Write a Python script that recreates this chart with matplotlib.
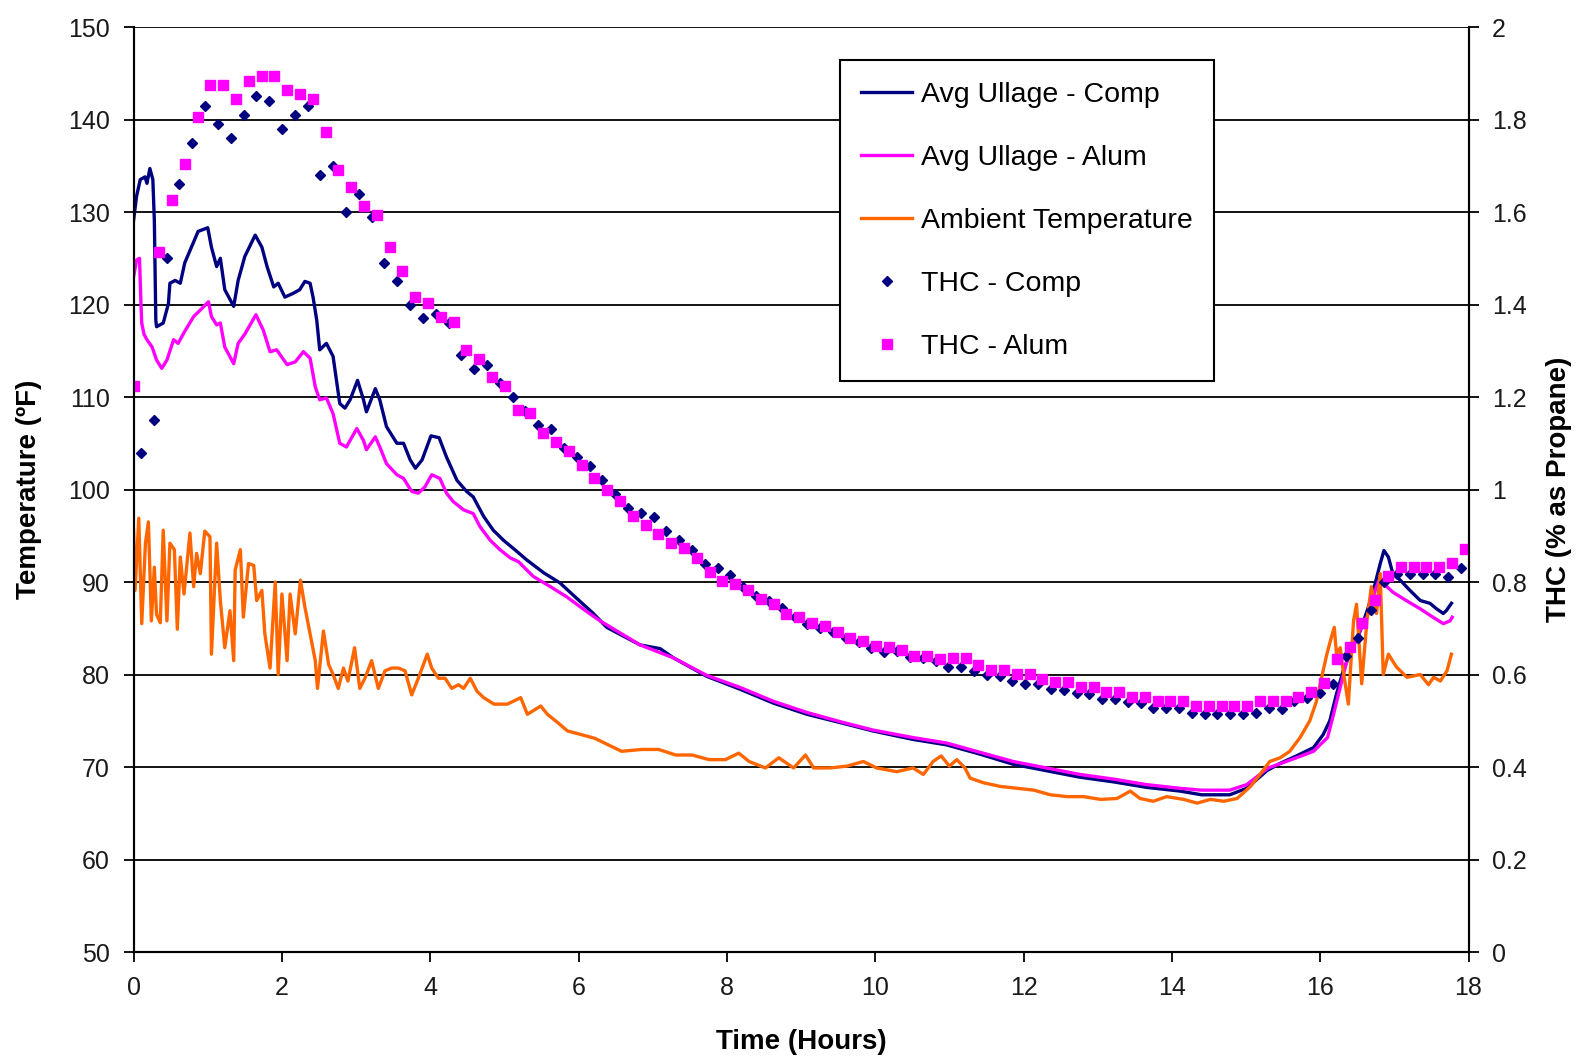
import numpy as np
import matplotlib
matplotlib.use("Agg")
import matplotlib.pyplot as plt
from matplotlib.lines import Line2D

plt.rcParams["font.family"] = ["Liberation Sans", "DejaVu Sans"]

NAVY = "#000080"
MAGENTA = "#FF00FF"
ORANGE = "#FF6600"

# ---- Avg Ullage - Comp (deg F) ----
comp_hours = [0, 0.04, 0.09, 0.155, 0.18, 0.22, 0.26, 0.28, 0.30, 0.31, 0.40, 0.47, 0.49,
              0.56, 0.63, 0.69, 0.78, 0.87, 1.00, 1.05, 1.12, 1.17, 1.23, 1.35, 1.41, 1.50,
              1.64, 1.73, 1.80, 1.89, 1.95, 2.04, 2.15, 2.24, 2.31, 2.38, 2.42, 2.47, 2.51,
              2.60, 2.69, 2.78, 2.85, 2.92, 3.02, 3.10, 3.14, 3.26, 3.32, 3.41, 3.55, 3.64,
              3.73, 3.80, 3.89, 4.01, 4.12, 4.22, 4.36, 4.49, 4.58, 4.72, 4.85, 4.99, 5.14,
              5.30, 5.53, 5.75, 5.98, 6.20, 6.38, 6.83, 7.10, 7.28, 7.73, 8.18, 8.63, 9.08,
              9.53, 9.97, 10.5, 10.96, 11.41, 11.86, 12.31, 12.76, 13.21, 13.66, 14.11, 14.4,
              14.78, 15.01, 15.28, 15.46, 15.68, 15.91, 16.04, 16.13, 16.22, 16.31, 16.40,
              16.54, 16.65, 16.74, 16.81, 16.86, 16.92, 16.98, 17.08, 17.21, 17.35, 17.48,
              17.57, 17.66, 17.70, 17.77]
comp_temp = [129.1, 131.7, 133.5, 133.8, 133.1, 134.7, 133.5, 129.1, 118.3, 117.6, 118.0,
             120.1, 122.3, 122.6, 122.3, 124.5, 126.2, 127.9, 128.3, 126.2, 124.1, 125.0,
             121.6, 119.8, 122.6, 125.2, 127.5, 126.2, 124.1, 121.9, 122.3, 120.8, 121.2,
             121.6, 122.5, 122.3, 120.8, 118.3, 115.1, 115.8, 114.4, 109.3, 108.8, 109.7,
             111.8, 109.7, 108.4, 110.9, 109.7, 106.8, 105.0, 105.0, 103.2, 102.3, 103.2,
             105.8, 105.6, 103.5, 101.0, 99.8, 99.2, 97.1, 95.6, 94.5, 93.5, 92.4, 91.0,
             89.9, 88.2, 86.6, 85.1, 83.2, 82.8, 81.8, 79.8, 78.4, 76.9, 75.7, 74.8, 73.9,
             73.0, 72.4, 71.4, 70.3, 69.6, 68.9, 68.4, 67.8, 67.4, 67.0, 67.0, 67.7, 69.6,
             70.4, 71.2, 72.1, 73.5, 75.0, 77.9, 80.4, 82.2, 84.7, 87.3, 89.8, 92.0, 93.4,
             92.7, 90.9, 90.2, 89.1, 88.0, 87.7, 87.1, 86.6, 86.9, 87.7]

# ---- Avg Ullage - Alum (deg F) ----
alum_hours = [0, 0.04, 0.08, 0.10, 0.11, 0.14, 0.18, 0.25, 0.31, 0.38, 0.45, 0.54, 0.60,
              0.69, 0.81, 0.90, 1.01, 1.05, 1.12, 1.17, 1.23, 1.35, 1.41, 1.50, 1.65, 1.75,
              1.84, 1.93, 2.07, 2.18, 2.29, 2.38, 2.45, 2.51, 2.60, 2.69, 2.78, 2.87, 3.01,
              3.10, 3.14, 3.26, 3.32, 3.41, 3.55, 3.64, 3.75, 3.84, 3.93, 4.02, 4.13, 4.22,
              4.31, 4.45, 4.58, 4.67, 4.81, 4.94, 5.08, 5.19, 5.39, 5.62, 5.84, 6.06, 6.29,
              6.83, 7.28, 7.73, 8.18, 8.63, 9.08, 9.53, 9.97, 10.5, 10.96, 11.41, 11.86,
              12.31, 12.76, 13.21, 13.66, 14.11, 14.4, 14.78, 15.01, 15.30, 15.68, 15.91,
              16.10, 16.18, 16.27, 16.36, 16.49, 16.63, 16.76, 16.81, 16.90, 16.98, 17.16,
              17.35, 17.52, 17.66, 17.75, 17.78]
alum_temp = [123.0, 124.8, 125.0, 120.0, 118.0, 116.8, 116.2, 115.4, 114.0, 113.1, 114.0,
             116.2, 115.8, 117.1, 118.7, 119.4, 120.3, 118.7, 117.8, 118.0, 115.4, 113.6,
             115.8, 116.8, 118.9, 117.2, 114.9, 115.1, 113.5, 113.8, 114.9, 114.2, 111.1,
             109.7, 109.9, 108.2, 105.0, 104.6, 106.6, 105.3, 104.3, 105.7, 104.6, 102.8,
             101.6, 101.2, 99.8, 99.6, 100.3, 101.6, 101.2, 99.6, 98.7, 97.8, 97.4, 96.0,
             94.5, 93.5, 92.6, 92.2, 90.6, 89.5, 88.4, 87.1, 85.8, 83.2, 81.8, 79.9, 78.6,
             77.1, 75.9, 74.9, 74.0, 73.2, 72.6, 71.6, 70.6, 69.9, 69.2, 68.7, 68.1, 67.7,
             67.5, 67.5, 68.1, 69.9, 71.0, 71.7, 73.2, 75.7, 78.6, 81.5, 84.0, 86.2, 89.5,
             90.5, 89.5, 88.9, 88.0, 87.1, 86.2, 85.5, 85.8, 86.2]

# ---- Ambient Temperature (deg F) ----
amb_hours = [0, 0.02, 0.07, 0.11, 0.16, 0.20, 0.24, 0.28, 0.31, 0.36, 0.40, 0.45, 0.49,
             0.55, 0.59, 0.63, 0.68, 0.76, 0.81, 0.85, 0.90, 0.96, 1.03, 1.05, 1.12, 1.17,
             1.23, 1.30, 1.35, 1.37, 1.44, 1.48, 1.55, 1.62, 1.66, 1.73, 1.77, 1.84, 1.91,
             1.95, 2.00, 2.07, 2.11, 2.18, 2.25, 2.31, 2.38, 2.45, 2.48, 2.56, 2.63, 2.69,
             2.76, 2.83, 2.89, 2.98, 3.05, 3.12, 3.21, 3.30, 3.39, 3.48, 3.57, 3.66, 3.75,
             3.84, 3.96, 4.02, 4.11, 4.20, 4.29, 4.38, 4.45, 4.54, 4.63, 4.72, 4.86, 5.04,
             5.22, 5.31, 5.49, 5.58, 5.72, 5.85, 6.04, 6.22, 6.40, 6.58, 6.85, 7.08, 7.31,
             7.53, 7.76, 7.98, 8.16, 8.30, 8.52, 8.70, 8.90, 9.06, 9.17, 9.39, 9.62, 9.84,
             10.02, 10.29, 10.51, 10.65, 10.78, 10.89, 11.00, 11.10, 11.21, 11.28, 11.46,
             11.69, 11.91, 12.14, 12.36, 12.59, 12.81, 13.04, 13.26, 13.44, 13.57, 13.75,
             13.93, 14.16, 14.34, 14.52, 14.70, 14.88, 15.06, 15.19, 15.32, 15.46, 15.59,
             15.73, 15.86, 15.95, 16.02, 16.09, 16.15, 16.19, 16.22, 16.27, 16.31, 16.38,
             16.45, 16.49, 16.56, 16.63, 16.69, 16.76, 16.81, 16.85, 16.92, 17.03, 17.17,
             17.35, 17.46, 17.53, 17.62, 17.71, 17.77]
amb_temp = [95.6, 89.1, 96.9, 85.5, 94.2, 96.5, 85.8, 91.6, 86.5, 85.6, 95.6, 85.8, 94.2,
            93.5, 84.9, 92.7, 88.7, 95.3, 89.5, 93.1, 90.9, 95.5, 94.9, 82.2, 94.2, 88.0,
            82.9, 86.9, 81.5, 91.3, 93.5, 86.2, 92.0, 91.8, 88.0, 89.1, 84.4, 80.7, 90.0,
            80.0, 88.7, 81.5, 88.7, 84.4, 90.2, 87.3, 84.4, 81.5, 78.5, 84.7, 81.1, 80.0,
            78.5, 80.7, 79.3, 82.9, 78.5, 79.6, 81.5, 78.5, 80.4, 80.7, 80.7, 80.4, 77.8,
            79.6, 82.2, 80.7, 79.6, 79.6, 78.5, 78.9, 78.5, 79.6, 78.2, 77.5, 76.8, 76.8,
            77.5, 75.7, 76.6, 75.7, 74.8, 73.9, 73.5, 73.1, 72.4, 71.7, 71.9, 71.9, 71.3,
            71.3, 70.8, 70.8, 71.5, 70.6, 69.9, 71.0, 69.9, 71.3, 69.9, 69.9, 70.1, 70.6,
            69.9, 69.5, 69.9, 69.2, 70.6, 71.2, 70.1, 70.8, 69.9, 68.8, 68.3,
            67.9, 67.7, 67.5, 67.0, 66.8, 66.8, 66.5, 66.6, 67.4, 66.6, 66.3,
            66.8, 66.5, 66.1, 66.5, 66.3, 66.6, 67.9, 69.2, 70.6, 71.0, 71.7,
            73.2, 75.0, 77.1, 79.7, 82.2, 84.0, 85.1, 82.2, 82.9, 80.4, 76.8,
            85.8, 87.6, 79.0, 85.8, 89.5, 86.6, 90.9, 80.0, 82.2, 80.8, 79.7,
            80.0, 78.9, 79.7, 79.3, 80.4, 82.2]

# ---- THC (% as propane), one reading about every 10 minutes ----
thc_comp = [1.08, 1.15, 1.50, 1.66, 1.75, 1.83, 1.79, 1.76, 1.81, 1.85,
            1.84, 1.78, 1.81, 1.83, 1.68, 1.70, 1.60, 1.64, 1.59, 1.49,
            1.45, 1.40, 1.37, 1.38, 1.36, 1.29, 1.26, 1.27, 1.23, 1.20,
            1.17, 1.14, 1.13, 1.09, 1.07, 1.05, 1.02, 0.99, 0.96, 0.95,
            0.94, 0.91, 0.89, 0.87, 0.84, 0.83, 0.815, 0.79, 0.77, 0.76,
            0.744, 0.725, 0.709, 0.70, 0.691, 0.68, 0.671, 0.657, 0.649, 0.651,
            0.638, 0.635, 0.630, 0.617, 0.617, 0.608, 0.599, 0.597, 0.586, 0.579,
            0.580, 0.568, 0.567, 0.561, 0.557, 0.548, 0.548, 0.541, 0.539, 0.528,
            0.528, 0.528, 0.517, 0.515, 0.515, 0.515, 0.515, 0.517, 0.528, 0.526,
            0.543, 0.550, 0.561, 0.580, 0.641, 0.679, 0.740, 0.800, 0.818, 0.818,
            0.818, 0.818, 0.811, 0.830]
thc_alum = [1.224, np.nan, 1.513, 1.626, 1.704, 1.805, 1.875, 1.875, 1.844, 1.883,
            1.894, 1.894, 1.864, 1.855, 1.844, 1.772, 1.691, 1.653, 1.614, 1.594,
            1.524, 1.473, 1.416, 1.404, 1.372, 1.363, 1.302, 1.282, 1.244, 1.224,
            1.173, 1.166, 1.123, 1.102, 1.084, 1.053, 1.024, 1.000, 0.975, 0.943,
            0.923, 0.904, 0.885, 0.873, 0.853, 0.821, 0.802, 0.795, 0.783, 0.763,
            0.752, 0.731, 0.724, 0.712, 0.704, 0.691, 0.680, 0.673, 0.661, 0.660,
            0.654, 0.641, 0.641, 0.633, 0.635, 0.635, 0.621, 0.610, 0.610, 0.602,
            0.602, 0.590, 0.583, 0.583, 0.572, 0.572, 0.563, 0.563, 0.551, 0.551,
            0.543, 0.543, 0.543, 0.532, 0.532, 0.532, 0.532, 0.532, 0.543, 0.543,
            0.543, 0.551, 0.563, 0.581, 0.633, 0.660, 0.711, 0.762, 0.814, 0.833,
            0.833, 0.833, 0.833, 0.842, 0.872]
# sampling clock of the analyzer (hours)
thc_comp_hours = 0.1 + 0.1728 * np.arange(len(thc_comp))
thc_alum_hours = 0.1726 * np.arange(len(thc_alum))

assert len(comp_hours) == len(comp_temp)
assert len(alum_hours) == len(alum_temp)
assert len(amb_hours) == len(amb_temp)

x_ticks = list(range(0, 19, 2))
temp_ticks = list(range(50, 151, 10))
thc_ticks = [0, 0.2, 0.4, 0.6, 0.8, 1, 1.2, 1.4, 1.6, 1.8, 2]


fig = plt.figure(figsize=(15.77, 10.59), dpi=100)
ax = fig.add_axes([0.0847, 0.101, 0.8465, 0.8735])
ax2 = ax.twinx()

ax.plot(comp_hours, comp_temp, color=NAVY, lw=2.4)
ax.plot(alum_hours, alum_temp, color=MAGENTA, lw=2.4)
ax.plot(amb_hours, amb_temp, color=ORANGE, lw=2.4)

ax2.plot(thc_comp_hours, thc_comp, ls="none", marker="D", ms=5.5, color=NAVY, mec=NAVY)
ax2.plot(thc_alum_hours, thc_alum, ls="none", marker="s", ms=7.8, color=MAGENTA, mec=MAGENTA)

ax.set_xlim(0, 18)
ax.set_ylim(50, 150)
ax2.set_ylim(0, 2)
ax.set_xticks(x_ticks)
ax.set_yticks(temp_ticks)
ax2.set_yticks(thc_ticks)
ax2.set_yticklabels([f"{v:g}" for v in thc_ticks])

ax.yaxis.grid(True, color="black", lw=1.3)
ax.set_axisbelow(True)
for a in (ax, ax2):
    a.spines["top"].set_visible(False)
    for s in ("left", "right", "bottom"):
        a.spines[s].set_color("black")
        a.spines[s].set_linewidth(1.5)
    a.tick_params(direction="out", length=7, width=1.3, labelsize=18, pad=10,
                  colors="black", labelcolor="#1a1a1a")

ax.set_xlabel("Time (Hours)", fontsize=20, fontweight="bold")
ax.set_ylabel("Temperature (ºF)", fontsize=20, fontweight="bold")
ax2.set_ylabel("THC (% as Propane)", fontsize=20, fontweight="bold")
ax.xaxis.set_label_coords(0.5, -0.083)
ax.yaxis.set_label_coords(-0.0685, 0.5)
ax2.yaxis.set_label_coords(1.058, 0.5)

handles = [
    Line2D([], [], color=NAVY, lw=2.4),
    Line2D([], [], color=MAGENTA, lw=2.4),
    Line2D([], [], color=ORANGE, lw=2.4),
    Line2D([], [], ls="none", marker="D", ms=5.5, color=NAVY),
    Line2D([], [], ls="none", marker="s", ms=7.8, color=MAGENTA),
]
labels = ["Avg Ullage - Comp", "Avg Ullage - Alum", "Ambient Temperature",
          "THC - Comp", "THC - Alum"]
leg = ax2.legend(handles, labels, loc="upper left", bbox_to_anchor=(0.529, 0.964),
                 borderaxespad=0, fontsize=20.5, handlelength=1.8, handletextpad=0.3,
                 labelspacing=1.3, borderpad=0.75, fancybox=False, framealpha=1,
                 edgecolor="black")
leg.get_frame().set_linewidth(1.5)

fig.savefig("out.png", dpi=100)
